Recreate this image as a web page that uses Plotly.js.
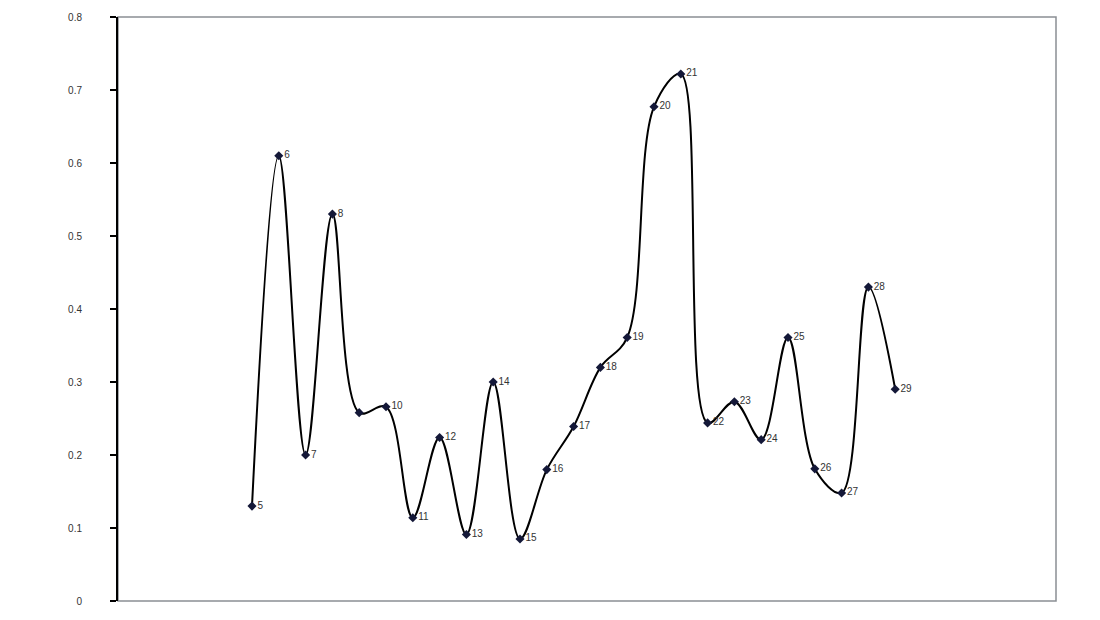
<!DOCTYPE html>
<html>
<head>
<meta charset="utf-8">
<script src="https://cdn.plot.ly/plotly-3.0.1.min.js"></script>
<style>
  body { margin: 0; background: #fff; }
  #chart { width: 1100px; height: 620px; }
</style>
</head>
<body>
<div id="chart"></div>
<script>
// point positions along the hidden x axis
var xs = [5, 6, 7, 8, 9, 10, 11, 12, 13, 14, 15, 16, 17,
          18, 19, 20, 21, 22, 23, 24, 25, 26, 27, 28, 29];

// values
var values = [0.13, 0.61, 0.20, 0.53, 0.258, 0.266, 0.114, 0.224, 0.091,
              0.30, 0.085, 0.18, 0.239, 0.32, 0.361, 0.677, 0.722, 0.244,
              0.273, 0.221, 0.361, 0.181, 0.148, 0.43, 0.29];

// label of point 9 is hidden behind the line in the original
var pointLabels = ['5', '6', '7', '8', '', '10', '11', '12', '13', '14', '15',
                   '16', '17', '18', '19', '20', '21', '22', '23', '24', '25',
                   '26', '27', '28', '29'];

var yTicks = [0, 0.1, 0.2, 0.3, 0.4, 0.5, 0.6, 0.7, 0.8];

var trace = {
  x: xs,
  y: values,
  text: pointLabels,
  type: 'scatter',
  mode: 'lines+markers+text',
  line: { color: '#000', width: 2, shape: 'spline', smoothing: 1 },
  marker: { symbol: 'diamond', size: 7, color: '#141838' },
  textposition: 'middle right',
  textfont: { family: 'Arial, Liberation Sans, sans-serif', size: 10, color: '#333' },
  cliponaxis: false,
  hoverinfo: 'x+y'
};

var layout = {
  width: 1100,
  height: 620,
  margin: { l: 118, r: 44, t: 17, b: 19 },
  paper_bgcolor: '#fff',
  plot_bgcolor: '#fff',
  showlegend: false,
  xaxis: {
    range: [0, 35],
    showgrid: false,
    zeroline: false,
    showticklabels: false,
    ticks: '',
    showline: false
  },
  yaxis: {
    range: [0, 0.8],
    tickvals: yTicks,
    ticktext: yTicks.map(function(v) { return String(v); }),
    showgrid: false,
    zeroline: false,
    ticks: 'outside',
    ticklen: 6,
    tickwidth: 1.5,
    tickcolor: '#000',
    showline: true,
    linecolor: '#000',
    linewidth: 2,
    ticklabelstandoff: 26,
    tickfont: { family: 'Arial, Liberation Sans, sans-serif', size: 10, color: '#333' }
  },
  shapes: [{
    type: 'rect', xref: 'paper', yref: 'paper',
    x0: 0, x1: 1, y0: 0, y1: 1,
    line: { color: '#8a8f94', width: 1.5 },
    layer: 'below'
  }]
};

Plotly.newPlot('chart', [trace], layout, { displayModeBar: false, staticPlot: true });
</script>
</body>
</html>
